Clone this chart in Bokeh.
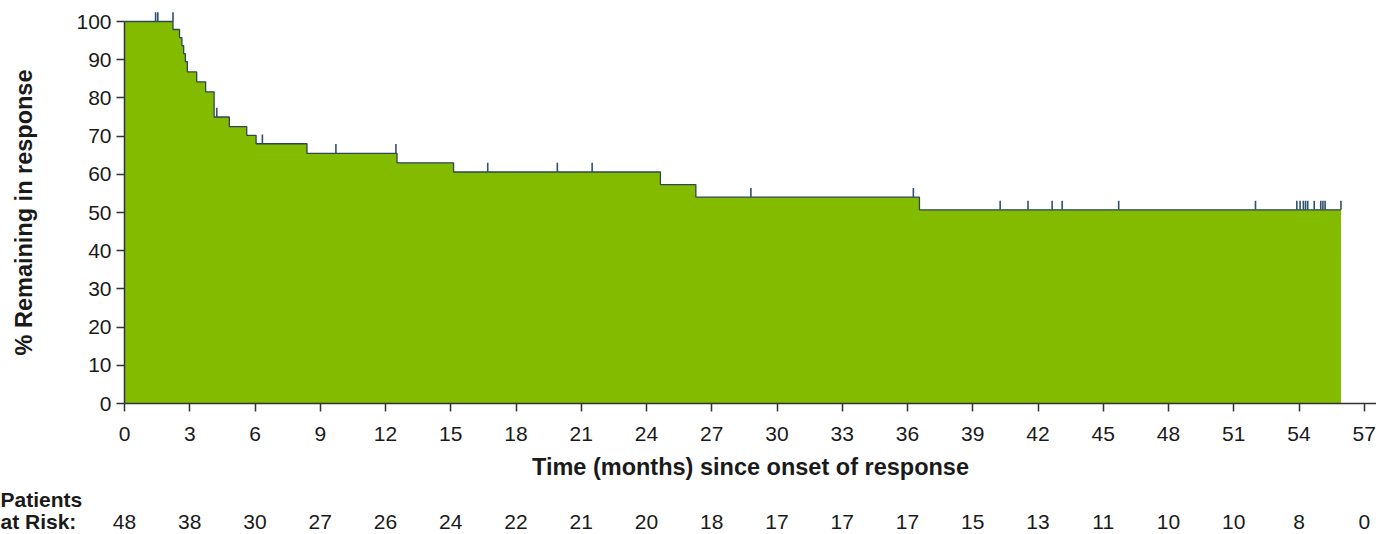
from bokeh.plotting import figure
from bokeh.models import Range1d, FixedTicker
from bokeh.core.properties import value
from bokeh.embed import file_html
from bokeh.resources import INLINE

# Kaplan-Meier step curve (time in months, % remaining in response after the step)
step_times = [0, 2.23, 2.53, 2.64, 2.72, 2.80, 2.89, 3.32, 3.73, 4.12, 4.82, 5.62,
              6.05, 8.39, 12.53, 15.13, 24.64, 26.27, 36.55]
step_levels = [100, 97.9, 95.8, 93.7, 91.6, 89.5, 86.8, 84.2, 81.6, 75.0, 72.5, 70.2,
               68.0, 65.5, 63.0, 60.6, 57.3, 54.0, 50.7]
end_time = 55.93

# censored observations
censor_times = [1.43, 1.53, 2.23, 4.24, 6.34, 9.72, 12.48, 16.7, 19.9, 21.5, 28.8, 36.27,
                40.26, 41.54, 42.65, 43.11, 45.71, 52.0, 53.9, 54.05, 54.2, 54.3, 54.4,
                54.7, 55.0, 55.1, 55.2, 55.93]
censor_levels = [100, 100, 100, 75.0, 68.0, 65.5, 65.5, 60.6, 60.6, 60.6, 54.0, 54.0,
                 50.7, 50.7, 50.7, 50.7, 50.7, 50.7, 50.7, 50.7, 50.7, 50.7, 50.7,
                 50.7, 50.7, 50.7, 50.7, 50.7]

# patients at risk
risk_times = [0, 3, 6, 9, 12, 15, 18, 21, 24, 27, 30, 33, 36, 39, 42, 45, 48, 51, 54, 57]
risk_counts = [48, 38, 30, 27, 26, 24, 22, 21, 20, 18, 17, 17, 17, 15, 13, 11, 10, 10, 8, 0]
risk_title = ["Patients", "at Risk:"]

y_ticks = [0, 10, 20, 30, 40, 50, 60, 70, 80, 90, 100]

FONT = "Liberation Sans"
GREEN = "#83bb00"
LINE = "#2e4656"
CENSOR = "#2f5270"
AXIS = "#333333"
TEXT = "#1a1a1a"
TICK_FS = "21px"
LABEL_FS = "23.5px"

W, H = 1376, 534
AXIS_X_PX, AXIS_Y_PX = 124, 403      # pixel position of the (0, 0) corner
PX_PER_MONTH = 21.75
PX_PER_PCT = 3.82

x_start = -AXIS_X_PX / PX_PER_MONTH
x_end = (W - AXIS_X_PX) / PX_PER_MONTH
y_end = AXIS_Y_PX / PX_PER_PCT
y_start = -(H - AXIS_Y_PX) / PX_PER_PCT

p = figure(width=W, height=H, output_backend="svg", toolbar_location=None,
           x_range=Range1d(x_start, x_end), y_range=Range1d(y_start, y_end),
           min_border_left=0, min_border_right=0, min_border_top=0,
           min_border_bottom=0,
           x_axis_label="Time (months) since onset of response",
           y_axis_label="% Remaining in response")
p.outline_line_color = None
p.grid.visible = False

xs = step_times + [end_time]
ys = step_levels + [step_levels[-1]]
p.varea_step(x=xs, y1=[0] * len(xs), y2=ys, step_mode="after", fill_color=GREEN)
p.step(x=xs, y=ys, mode="after", line_color=LINE, line_width=1.3)

CENSOR_H = 2.4
p.segment(x0=censor_times, y0=censor_levels, x1=censor_times,
          y1=[v + CENSOR_H for v in censor_levels], line_color=CENSOR, line_width=1.6)

for ax in (p.xaxis[0], p.yaxis[0]):
    ax.fixed_location = 0
    ax.axis_line_color = AXIS
    ax.axis_line_width = 1.5
    ax.major_tick_line_color = AXIS
    ax.major_tick_line_width = 1.5
    ax.major_tick_in = 0
    ax.major_tick_out = 8
    ax.minor_tick_line_color = None
    ax.major_label_text_font = FONT
    ax.major_label_text_font_size = TICK_FS
    ax.major_label_text_color = TEXT
    ax.axis_label_text_font = FONT
    ax.axis_label_text_font_size = LABEL_FS
    ax.axis_label_text_font_style = "bold"
    ax.axis_label_text_color = TEXT

p.xaxis[0].ticker = FixedTicker(ticks=risk_times)
p.xaxis[0].bounds = (0, x_end)
p.xaxis[0].major_label_standoff = 15
p.xaxis[0].axis_label_standoff = 10
p.yaxis[0].ticker = FixedTicker(ticks=y_ticks)
p.yaxis[0].bounds = (0, 100)
p.yaxis[0].major_label_standoff = 5
p.yaxis[0].axis_label_standoff = 36

# patients-at-risk table below the time axis
ROW_Y = -30.9
TITLE_Y = [-25.1, ROW_Y]
p.text(x=risk_times, y=[ROW_Y] * len(risk_times), text=[str(c) for c in risk_counts],
       text_font=value(FONT), text_font_size=value(TICK_FS), text_color=TEXT,
       text_align="center", text_baseline="middle")
p.text(x=[x_start, x_start], y=TITLE_Y, text=risk_title,
       text_font=value(FONT), text_font_size=value("21px"), text_font_style="bold",
       text_color=TEXT, text_align="left", text_baseline="middle")

open("out.html", "w").write(file_html(p, INLINE))
